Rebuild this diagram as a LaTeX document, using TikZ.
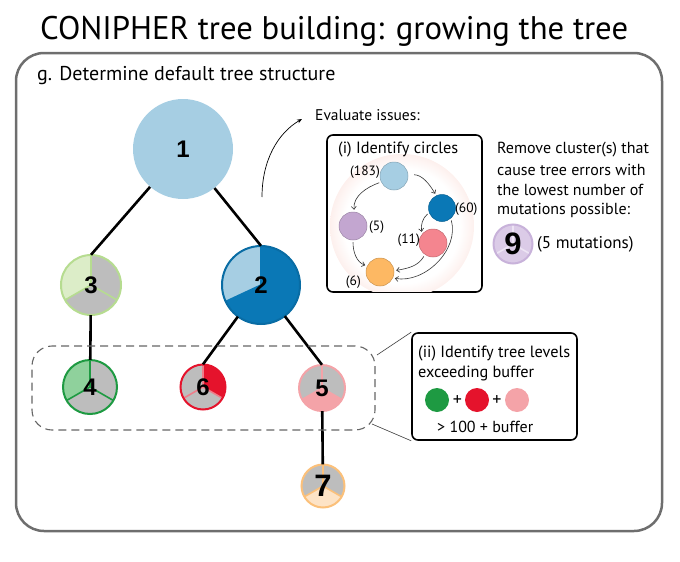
\documentclass[tikz,border=0pt]{standalone}
\usepackage{fontspec}
\setmainfont{PT Sans}
\newfontfamily\numfont{Liberation Sans}
\usetikzlibrary{arrows.meta}
\definecolor{frame}{HTML}{6E6E6E}
\definecolor{lblue}{HTML}{A6CEE3}
\definecolor{dblue}{HTML}{0A78B6}
\definecolor{greyfill}{HTML}{BDBDBD}
\definecolor{lgreen}{HTML}{B6DC90}
\definecolor{plgreen}{HTML}{DCEDC8}
\definecolor{dgreen}{HTML}{1E9A42}
\definecolor{mgreen}{HTML}{8FD19C}
\definecolor{dred}{HTML}{E5132C}
\definecolor{lred}{HTML}{EE7D8A}
\definecolor{pink}{HTML}{F4A3A8}
\definecolor{lorange}{HTML}{FBC07A}
\definecolor{porange}{HTML}{FDE3C6}
\definecolor{lpurple}{HTML}{DBCBE7}
\definecolor{mpurple}{HTML}{C8B2DA}
\definecolor{wpurple}{HTML}{EDE4F4}
\definecolor{spurple}{HTML}{C3A6D0}
\definecolor{spink}{HTML}{F4858F}
\definecolor{sorange}{HTML}{FDB863}
\definecolor{glowpink}{HTML}{F9D2CA}
\pgfdeclareradialshading{glow}{\pgfpoint{0bp}{0bp}}{color(0bp)=(white); color(20bp)=(white); color(35bp)=(glowpink); color(48bp)=(white); color(50bp)=(white)}
\newcommand\mypie[8]{%
  \begin{scope}[shift={(#1,#2)},yscale=-1]
    \fill[#5] (0,0) -- (90:#3) arc[start angle=90,end angle=210,radius=#3] -- cycle;
    \fill[#6] (0,0) -- (210:#3) arc[start angle=210,end angle=330,radius=#3] -- cycle;
    \fill[#7] (0,0) -- (330:#3) arc[start angle=330,end angle=450,radius=#3] -- cycle;
    \draw[#8,line width=1.6pt] (0,0) -- (90:#3) (0,0) -- (210:#3) (0,0) -- (330:#3);
    \draw[#4,line width=2pt] (0,0) circle[radius=#3];
  \end{scope}}
\tikzset{
  edge/.style={line width=2.6pt,black},
  num/.style={font=\numfont\bfseries\fontsize{24}{24}\selectfont,inner sep=0pt,circle},
  bignum/.style={font=\numfont\bfseries\fontsize{31}{31}\selectfont,inner sep=0pt,circle},
  small/.style={font=\fontsize{13.5}{13.5}\selectfont,inner sep=0pt},
  body/.style={font=\fontsize{16}{20}\selectfont,inner sep=0pt},
  sc/.style={circle,inner sep=0pt,minimum size=28pt,draw=#1!80!black,line width=0.5pt,fill=#1},
  arr/.style={-{Straight Barb[length=3pt,width=5pt]},line width=0.6pt,black!80,shorten <=2pt,shorten >=2pt},
  lc/.style={circle,inner sep=0pt,minimum size=24pt,fill=#1},
}
\begin{document}
\begin{tikzpicture}[x=1pt,y=-1pt]
\useasboundingbox (0,0) rectangle (680,562);
% title
\node[anchor=west,inner sep=0pt,font=\fontsize{32.7}{33}\selectfont] (title) at (40,31) {CONIPHER tree building: growing the tree};
% outer frame
\draw[frame,line width=2.5pt,rounded corners=28pt] (16,53) rectangle (662,531);
\node[anchor=west,inner sep=0pt,font=\fontsize{20}{20}\selectfont] (glabel) at (37,76) {g. Determine default tree structure};

% tree nodes
\fill[lblue] (183,149) circle[radius=50];
\node[num,minimum size=100pt] (n1) at (183,149) {1};

\mypie{91}{285}{30}{lgreen}{plgreen}{greyfill}{greyfill}{lgreen}
\node[num,minimum size=60pt] (n3) at (91,285) {3};

\begin{scope}[shift={(261,285)},yscale=-1]
  \fill[dblue] (0,0) circle[radius=39];
  \fill[lblue] (0,0) -- (90:39) arc[start angle=90,end angle=205,radius=39] -- cycle;
  \draw[dblue,line width=1.6pt] (0,0) -- (90:39) (0,0) -- (205:39);
  \draw[dblue!90!black,line width=2pt] (0,0) circle[radius=39];
\end{scope}
\node[num,minimum size=78pt] (n2) at (261,285) {2};

\mypie{90}{387}{27}{dgreen}{mgreen}{greyfill}{greyfill}{dgreen}
\node[num,minimum size=54pt] (n4) at (90,387) {4};

\mypie{203}{387}{22.5}{dred}{greyfill}{greyfill}{dred}{lred}
\node[num,minimum size=45pt] (n6) at (203,387) {6};

\mypie{322}{388}{23}{pink}{greyfill}{pink}{greyfill}{pink}
\node[num,minimum size=46pt] (n5) at (322,388) {5};

\mypie{323}{486}{21.5}{lorange}{greyfill}{porange}{greyfill}{lorange}
\node[bignum,minimum size=43pt] (n7) at (323,486) {7};

% edges
\draw[edge] (n1) -- (n3.north);
\draw[edge] (n1) -- (n2.north);
\draw[edge] (n3) -- (n4);
\draw[edge] (n2) -- (n6.north);
\draw[edge] (n2) -- (n5.north);
\draw[edge] (n5) -- (n7);

% dashed level box
\node[draw=black!60,dashed,dash pattern=on 8pt off 5pt,line width=1.1pt,rounded corners=20pt,minimum width=343pt,minimum height=84pt,inner sep=0pt] (lvl) at (203.5,388) {};

% curved arrow
\coordinate (ca) at (262,197);
\coordinate (cb) at (302,119);
\draw[-{Stealth[length=5pt,width=4pt]},line width=0.7pt] (ca) .. controls (262,160) and (278,133) .. (cb);
\node[anchor=west,body,font=\fontsize{15.5}{15.5}\selectfont] (evaltxt) at (315,115) {Evaluate issues:};

% box (i)
\node[draw,line width=1.6pt,rounded corners=6pt,minimum width=155pt,minimum height=157pt,inner sep=0pt] (boxi) at (404.5,213.5) {};
\begin{scope}
  \clip (328,136) rectangle (481,291);
  \shade[shading=glow] (402,226) circle[radius=72];
\end{scope}
\node[anchor=west,inner sep=0pt,font=\fontsize{16.3}{16.3}\selectfont] (ititle) at (338,149) {(i) Identify circles};
\node[sc=lblue] (c183) at (394,176) {};
\node[sc=dblue,minimum size=27pt] (c60) at (442,208) {};
\node[sc=spurple] (c5) at (353,226) {};
\node[sc=spink] (c11) at (433,243) {};
\node[sc=sorange] (c6) at (380,272) {};
\node[small,anchor=east] (l183) at (380,172) {(183)};
\node[small,anchor=west] (l60) at (455,209) {(60)};
\node[small,anchor=west] (l5) at (369,227) {(5)};
\node[small,anchor=east] (l11) at (420,240) {(11)};
\node[small,anchor=east] (l6) at (361,282) {(6)};
\draw[arr,shorten <=6pt] (c183.5) to[out=0,in=120] (c60.115);
\draw[arr] (c183.205) to[out=200,in=95] (c5.85);
\draw[arr] (c60.200) to[out=220,in=100] (c11.140);
\draw[arr] (c5.south) to[out=-90,in=160] (c6.155);
\draw[arr] (c11.235) to[out=240,in=10] (c6.5);
\draw[arr] (c60.310) to[out=-75,in=-10] (c6.-25);

% remove text
\node[anchor=west,body] (remtxt) at (497,150) {Remove cluster(s) that};
\node[anchor=west,body] (rem2) at (497,170) {cause tree errors with};
\node[anchor=west,body] (rem3) at (497,190) {the lowest number of};
\node[anchor=west,body] (rem4) at (497,210) {mutations possible:};
\mypie{513}{244}{19.5}{mpurple}{lpurple}{lpurple}{lpurple}{wpurple}
\node[bignum,minimum size=39pt] (n9) at (513,244) {9};
\node[anchor=west,body,font=\fontsize{17}{17}\selectfont] (mut) at (537,244) {(5 mutations)};

% box (ii)
\node[draw,line width=1.6pt,rounded corners=6pt,minimum width=165pt,minimum height=107pt,inner sep=0pt] (boxii) at (494.5,386.5) {};
\coordinate (lu) at (377,355);
\coordinate (ll) at (372,424);
\draw[black!75,line width=0.6pt] (lu) -- (boxii.north west);
\draw[black!75,line width=0.6pt] (ll) -- (boxii.south west);
\node[anchor=west,body,font=\fontsize{16.3}{16.3}\selectfont] (ii1) at (418,353) {(ii) Identify tree levels};
\node[anchor=west,body,font=\fontsize{16.3}{16.3}\selectfont] (ii2) at (418,373) {exceeding buffer};
\node[lc=dgreen] (g1) at (437,400) {};
\node[body,font=\fontsize{18}{18}\selectfont] (p1) at (457.5,401) {+};
\node[lc=dred] (g2) at (477,400) {};
\node[body,font=\fontsize{18}{18}\selectfont] (p2) at (497,401) {+};
\node[lc=pink] (g3) at (517,400) {};
\node[anchor=west,body] (ii3) at (437,427) {> 100 + buffer};
\end{tikzpicture}
\end{document}
